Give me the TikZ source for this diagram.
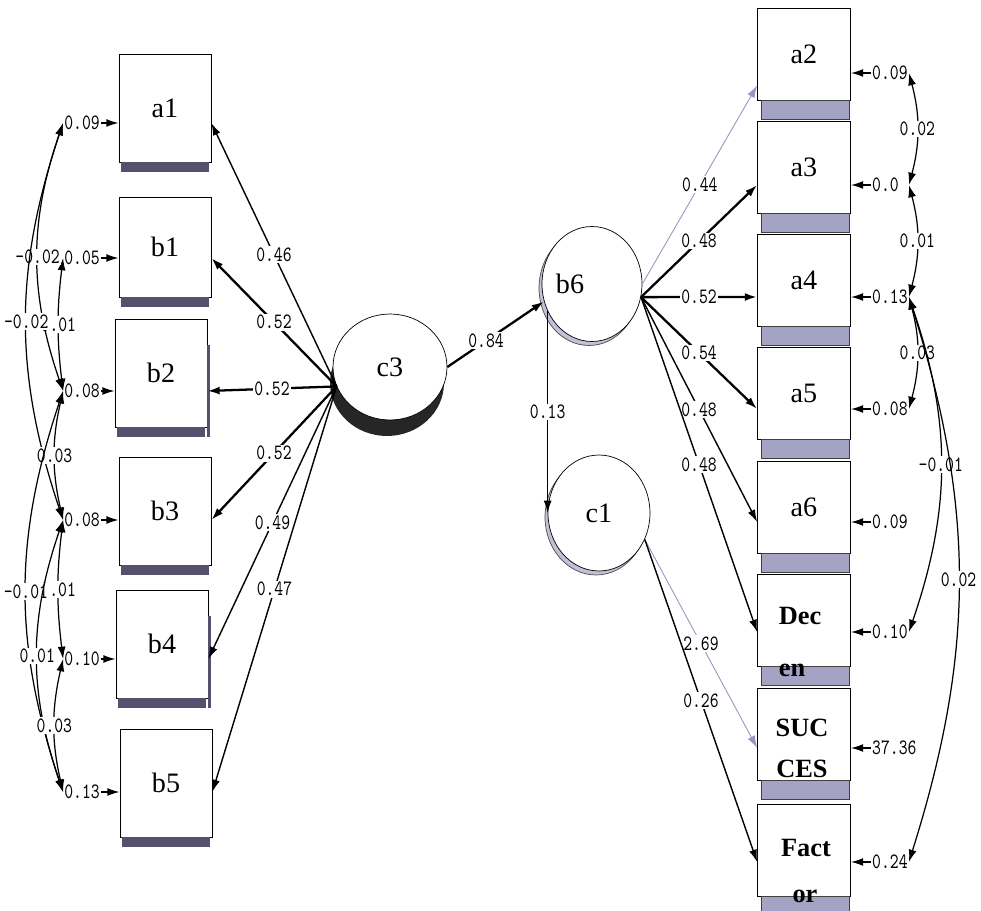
\documentclass[tikz,border=0pt]{standalone}
\usepackage{fontspec}
\setmainfont{Liberation Serif}
\usetikzlibrary{arrows.meta, shapes.geometric}

\definecolor{barL}{RGB}{85,80,110}
\definecolor{barR}{RGB}{165,163,195}
\definecolor{faint}{RGB}{150,150,190}

\tikzset{
  obsL/.style={draw, fill=white, inner sep=0pt, minimum width=1.84cm, minimum height=2.16cm, font=\fontsize{16}{18}\selectfont},
  obsR/.style={draw, fill=white, inner sep=0pt, minimum width=1.86cm, minimum height=1.84cm, font=\fontsize{16}{18}\selectfont},
  lat/.style={ellipse, draw, fill=white, inner sep=0pt, font=\fontsize{16}{18}\selectfont},
  word/.style={font=\bfseries\fontsize{15}{17}\selectfont, inner sep=0pt, anchor=base},
  num/.style={font=\ttfamily\fontsize{9.6}{11}\selectfont, yscale=1.3, transform shape, fill=white, text=black, inner sep=0.6pt},
  err/.style={font=\ttfamily\fontsize{9.6}{11}\selectfont, yscale=1.3, transform shape, inner sep=0.5pt},
  reg/.style={draw, line width=0.8pt, -{Latex[length=7pt,width=4.5pt]}},
  regb/.style={reg, line width=1.3pt},
  cov/.style={draw, line width=0.7pt, {Latex[length=7pt,width=4.5pt]}-{Latex[length=7pt,width=4.5pt]}}
}

\begin{document}
\begin{tikzpicture}[x=0.02cm, y=-0.02cm]
\useasboundingbox (0,0) rectangle (981,911);

% shadows under the latent variables
\fill[black!85] (387,383) ellipse (1.14cm and 1.06cm);
\filldraw[fill=faint!60, draw=black!70] (589,288) ellipse (1cm and 1.15cm);
\filldraw[fill=faint!60, draw=black!70] (596,517) ellipse (1.02cm and 1.16cm);

% latent variables
\node[lat, minimum width=2.28cm, minimum height=2.12cm] (c3) at (390,367) {c3};
\node[lat, minimum width=2cm, minimum height=2.3cm,
      label={[font=\fontsize{16}{18}\selectfont, xshift=-0.44cm]center:b6}] (b6) at (592,284) {};
\node[lat, minimum width=2.04cm, minimum height=2.32cm] (c1) at (599,513) {c1};

% observed variables, left
\node[obsL] (a1) at (165,108) {a1};
\node[obsL, minimum height=2cm] (b1) at (165,247) {b1};
\node[obsL] (b2) at (161,373) {b2};
\node[obsL] (b3) at (165,511) {b3};
\node[obsL] (b4) at (162,644) {b4};
\node[obsL] (b5) at (166,783) {b5};

% observed variables, right
\node[obsR] (a2) at (804,54) {a2};
\node[obsR] (a3) at (804,167) {a3};
\node[obsR] (a4) at (804,280) {a4};
\node[obsR] (a5) at (804,393) {a5};
\node[obsR] (a6) at (804,507) {a6};
\node[obsR] (dec) at (804,620) {};
\node[obsR] (suc) at (804,734) {};
\node[obsR] (fac) at (804,850) {};

% shading bars
\foreach \n in {a1,b1,b2,b3,b4,b5}
  \fill[barL] (\n.south west) ++(2,0) rectangle ++(88,10);
\fill[barL] (b2.south east) ++(0,-82) rectangle ++(3,92);
\fill[barL] (b4.south east) ++(0,-82) rectangle ++(3,92);
\foreach \n in {a2,a3,a4,a5,a6,dec,suc,fac}
  \filldraw[fill=barR, draw=black!75] (\n.south west) ++(4,0) rectangle ++(88,19);

\node[word] (dec1) at (800,625) {Dec};
\node[word] (dec2) at (792,677) {en};
\node[word] (suc1) at (802,737) {SUC};
\node[word] (suc2) at (802,778) {CES};
\node[word] (fac1) at (806,857) {Fact};
\node[word] (fac2) at (805,903) {or};

% error terms
\foreach \n/\val/\yy in {a1/0.09/123, b1/0.05/258, b2/0.08/391, b3/0.08/520, b4/0.10/659, b5/0.13/792}{
  \node[err, anchor=east] (e\n) at (101,\yy) {\val};
  \draw[reg] (e\n.east) -- (e\n.east -| \n.west);
}
\foreach \n/\val/\yy in {a2/0.09/73, a3/0.0/185, a4/0.13/297, a5/0.08/409, a6/0.09/522, dec/0.10/632, suc/37.36/748, fac/0.24/862}{
  \node[err, anchor=west] (e\n) at (871,\yy) {\val};
  \draw[reg] (e\n.west) -- (e\n.west -| \n.east);
}

% covariances, left
\draw[cov] (eb1.west) to[bend right=7] node[num]{0.01} (eb2.west);
\draw[cov] (ea1.west) to[bend right=19] node[num]{-0.02} (eb2.west);
\draw[cov] (ea1.west) to[bend right=18.5] node[num]{-0.02} (eb3.west);
\draw[cov] (eb2.west) to[bend right=13] node[num]{0.03} (eb3.west);
\draw[cov] (eb3.west) to[bend right=7] node[num]{0.01} (eb4.west);
\draw[cov] (eb2.west) to[bend right=18.5] node[num]{-0.01} (eb5.west);
\draw[cov] (eb3.west) to[bend right=19] node[num]{0.01} (eb5.west);
\draw[cov] (eb4.west) to[bend right=13] node[num]{0.03} (eb5.west);

% covariances, right
\draw[cov] (ea2.east) to[bend left=15] node[num]{0.02} (ea3.west -| ea2.east);
\draw[cov] (ea3.west -| ea2.east) to[bend left=15] node[num]{0.01} (ea4.east);
\draw[cov] (ea4.east) to[bend left=15] node[num]{0.03} (ea5.east);
\draw[cov] (ea4.east) to[bend left=19] node[num]{-0.01} (edec.east);
\draw[cov] (ea4.east) to[bend left=17.5] node[num]{0.02} (efac.east);

% paths from c3
\draw[reg] (c3.200) -- node[num]{0.46} (a1.east |- ea1);
\draw[regb] (c3.200) -- node[num]{0.52} (b1.east |- eb1);
\draw[regb] (c3.200) -- node[num]{0.52} (b2.east |- eb2);
\draw[regb] (c3.200) -- node[num]{0.52} (b3.east |- eb3);
\draw[reg] (c3.200) -- node[num]{0.49} (b4.east |- eb4);
\draw[reg] (c3.200) -- node[num]{0.47} (b5.east |- eb5);
\draw[regb] (c3.east) -- node[num, pos=0.4]{0.84} (b6.200);

% paths from b6 and c1
\draw[reg, faint, line width=0.5pt] (b6.east) -- node[num]{0.44} ([yshift=-0.63cm]a2.west);
\draw[regb] (b6.-15) -- node[num]{0.48} (a3.west |- ea3);
\draw[regb] (b6.-15) -- node[num]{0.52} (a4.west |- ea4);
\draw[regb] (b6.-15) -- node[num]{0.54} (a5.west |- ea5);
\draw[reg] (b6.-15) -- node[num]{0.48} (a6.west |- ea6);
\draw[reg] (b6.-15) -- node[num]{0.48} (dec.west |- edec);
\draw[reg] (c1.west |- b6.211) -- node[num]{0.13} (c1.west);
\draw[reg, faint, line width=0.5pt] (c1.-30) -- node[num]{2.69} (suc.west |- esuc);
\draw[reg] (c1.-30) -- node[num]{0.26} (fac.west |- efac);
\end{tikzpicture}
\end{document}
